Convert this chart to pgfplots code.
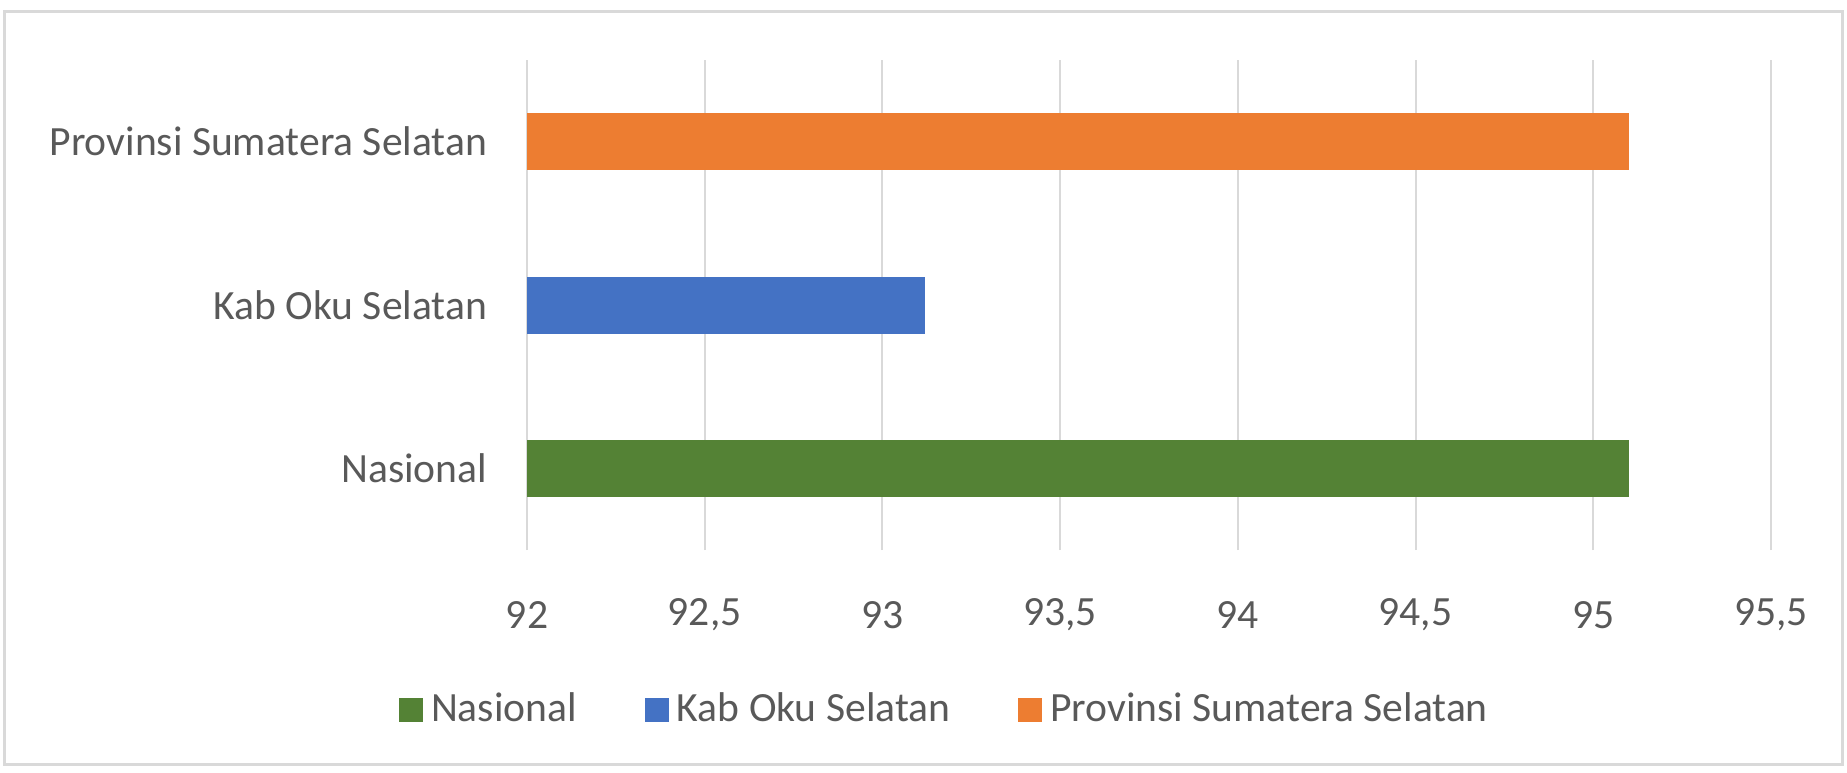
\documentclass[border=0pt]{standalone}
\usepackage{fontspec}
\setmainfont{Carlito}
\usepackage{pgfplots}
\pgfplotsset{compat=1.18}
\definecolor{tc}{HTML}{595959}
\definecolor{gridc}{HTML}{D9D9D9}
\definecolor{cgreen}{HTML}{548235}
\definecolor{cblue}{HTML}{4472C4}
\definecolor{corange}{HTML}{ED7D31}
\begin{document}
\begin{tikzpicture}
\useasboundingbox (-131.75pt,-55.5pt) rectangle (330pt,137.5pt);
\draw[color=gridc, line width=0.75pt] (-130.5pt,-53.5pt) rectangle (328.75pt,134.5pt);
\begin{axis}[
  at={(0pt,0pt)}, anchor=south west,
  scale only axis, width=311pt, height=122.5pt,
  xmin=92, xmax=95.5, ymin=-0.5, ymax=2.5,
  xbar, bar width=14.25pt, bar shift=0pt,
  xtick={92,92.5,93,93.5,94,94.5,95,95.5},
  xticklabels={92,{92,5},93,{93,5},94,{94,5},95,{95,5}},
  ytick={0,1,2},
  yticklabels={Nasional,Kab Oku Selatan,Provinsi Sumatera Selatan},
  xmajorgrids, grid style={color=gridc, line width=0.5pt},
  axis line style={draw=none}, major tick style={draw=none},
  tick label style={font=\fontsize{10.4}{12}\selectfont, text=tc},
  xticklabel style={anchor=center, yshift=-16.25pt},
  yticklabel style={anchor=east, inner sep=0pt, xshift=-5.5pt},
  legend columns=-1,
  legend style={draw=none, at={(0.338,-0.327)}, anchor=center,
    font=\fontsize{10.4}{12}\selectfont, text=tc,
    /tikz/every even column/.append style={column sep=15pt}},
  legend image code/.code={\fill[#1] (0pt,-3pt) rectangle (6pt,3pt);},
]
\addplot[fill=cgreen, draw=none] coordinates {(95.1,0)};
\addplot[fill=cblue, draw=none] coordinates {(93.12,1)};
\addplot[fill=corange, draw=none] coordinates {(95.1,2)};
\legend{Nasional,Kab Oku Selatan,Provinsi Sumatera Selatan}
\end{axis}
\end{tikzpicture}
\end{document}
